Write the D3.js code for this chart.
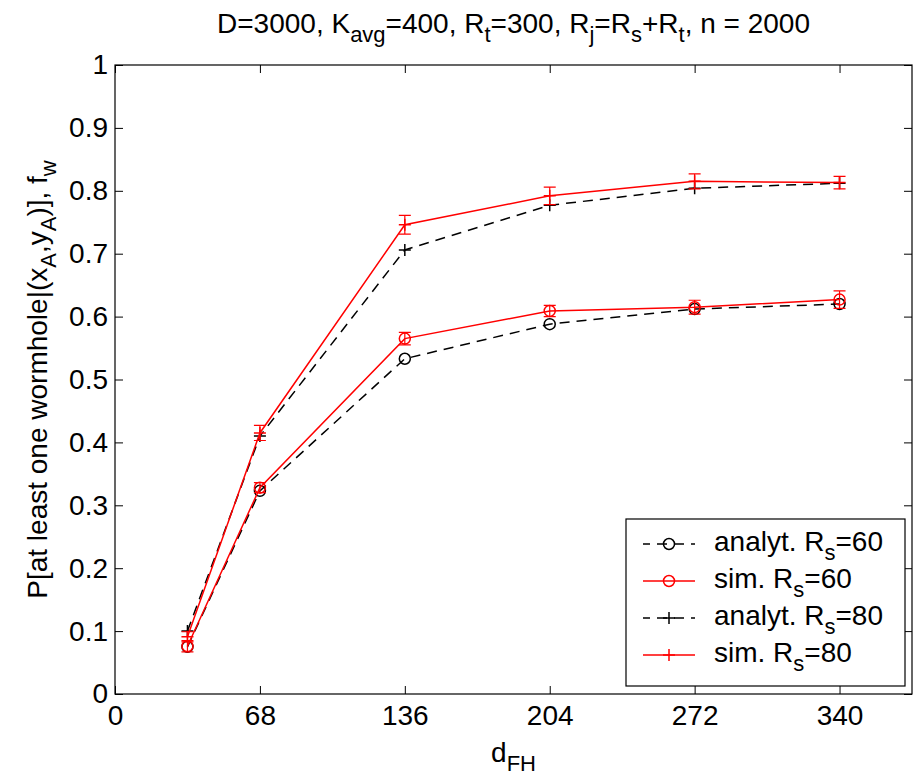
<!DOCTYPE html>
<html>
<head>
<meta charset="utf-8">
<script src="https://cdn.jsdelivr.net/npm/d3@7"></script>
<style>
  body { margin: 0; background: #fff; }
  svg { display: block; }
  text { font-family: "Liberation Sans", Arial, Helvetica, sans-serif; fill: #000; }
</style>
</head>
<body>
<svg id="chart" width="916" height="781"></svg>
<script>
// ---- data ----
const xValues = [34, 68, 136, 204, 272, 340];
const analyt60 = [0.075, 0.323, 0.533, 0.588, 0.612, 0.620];
const sim60 = [0.076, 0.328, 0.565, 0.609, 0.615, 0.627];
const sim60Err = [0.009, 0.008, 0.010, 0.009, 0.011, 0.014];
const analyt80 = [0.100, 0.410, 0.706, 0.777, 0.804, 0.812];
const sim80 = [0.091, 0.415, 0.746, 0.792, 0.815, 0.813];
const sim80Err = [0.008, 0.012, 0.015, 0.014, 0.012, 0.010];
const xTicks = [0, 68, 136, 204, 272, 340];
const yTicks = [0, 0.1, 0.2, 0.3, 0.4, 0.5, 0.6, 0.7, 0.8, 0.9, 1];
const legendLabels = [
  ["analyt. R", "s", "=60"],
  ["sim. R", "s", "=60"],
  ["analyt. R", "s", "=80"],
  ["sim. R", "s", "=80"]
];

// ---- layout ----
const L = 115, T = 65, R = 912, B = 694;
const svg = d3.select("#chart");
const x = d3.scaleLinear().domain([0, 374]).range([L, R]);
const y = d3.scaleLinear().domain([0, 1]).range([B, T]);
const FS = 28, SUB = 22, TL = 8, SD = 9;

// axes box
svg.append("rect").attr("x", L).attr("y", T).attr("width", R - L).attr("height", B - T)
  .attr("fill", "none").attr("stroke", "#000").attr("stroke-width", 1.2);

const xAxis = d3.axisBottom(x).tickValues(xTicks).tickFormat(d3.format("d")).tickSizeInner(-TL).tickSizeOuter(0).tickPadding(11);
const gx = svg.append("g").attr("transform", `translate(0,${B})`).call(xAxis);
const xAxisTop = d3.axisTop(x).tickValues(xTicks).tickFormat("").tickSizeInner(-TL).tickSizeOuter(0);
const gxt = svg.append("g").attr("transform", `translate(0,${T})`).call(xAxisTop);
const yAxis = d3.axisLeft(y).tickValues(yTicks).tickFormat(d => d3.format("~g")(d)).tickSizeInner(-TL).tickSizeOuter(0).tickPadding(7);
const gy = svg.append("g").attr("transform", `translate(${L},0)`).call(yAxis);
const yAxisR = d3.axisRight(y).tickValues(yTicks).tickFormat("").tickSizeInner(-TL).tickSizeOuter(0);
const gyr = svg.append("g").attr("transform", `translate(${R},0)`).call(yAxisR);
[gx, gxt, gy, gyr].forEach(g => {
  g.select(".domain").remove();
  g.selectAll(".tick line").attr("stroke", "#000").attr("stroke-width", 1);
  g.selectAll("text").attr("font-size", FS).attr("font-family", "Liberation Sans, Arial, sans-serif").attr("fill", "#000");
});
gx.selectAll("text").attr("dy", "0.71em");

// lines
const line = d3.line().x(d => x(d[0])).y(d => y(d[1]));
const plot = svg.append("g");

function drawSeries(vals, color, dashed) {
  plot.append("path").datum(xValues.map((xv, i) => [xv, vals[i]]))
    .attr("d", line).attr("fill", "none").attr("stroke", color).attr("stroke-width", 1.5)
    .attr("stroke-dasharray", dashed ? "10,7" : null);
}
function drawCircles(vals, color) {
  plot.append("g").selectAll("circle").data(xValues.map((xv, i) => [xv, vals[i]])).join("circle")
    .attr("cx", d => x(d[0])).attr("cy", d => y(d[1])).attr("r", 5.5)
    .attr("fill", "none").attr("stroke", color).attr("stroke-width", 1.5);
}
function drawPlus(vals, color) {
  const g = plot.append("g");
  xValues.forEach((xv, i) => {
    const cx = x(xv), cy = y(vals[i]);
    g.append("path").attr("d", `M${cx - 6},${cy}H${cx + 6}M${cx},${cy - 6}V${cy + 6}`)
      .attr("stroke", color).attr("stroke-width", 1.5).attr("fill", "none");
  });
}
function drawErr(vals, errs, color) {
  const g = plot.append("g");
  xValues.forEach((xv, i) => {
    const cx = x(xv), y0 = y(vals[i] - errs[i]), y1 = y(vals[i] + errs[i]);
    g.append("path").attr("d", `M${cx},${y0}V${y1}M${cx - 6},${y0}H${cx + 6}M${cx - 6},${y1}H${cx + 6}`)
      .attr("stroke", color).attr("stroke-width", 1.2).attr("fill", "none");
  });
}

drawSeries(analyt60, "#000", true);
drawCircles(analyt60, "#000");
drawSeries(analyt80, "#000", true);
drawPlus(analyt80, "#000");
drawSeries(sim60, "#ff0000", false);
drawErr(sim60, sim60Err, "#ff0000");
drawCircles(sim60, "#ff0000");
drawSeries(sim80, "#ff0000", false);
drawErr(sim80, sim80Err, "#ff0000");
drawPlus(sim80, "#ff0000");

function richText(sel, parts) {
  let prev = 0;
  parts.forEach(([t, s]) => {
    const shift = (s ? SD : 0) - (prev ? SD : 0);
    sel.append("tspan").attr("dy", shift).attr("font-size", s ? SUB : FS).text(t);
    prev = s;
  });
}

// title
const title = svg.append("text").attr("x", (L + R) / 2).attr("y", 33).attr("text-anchor", "middle").attr("font-size", FS);
richText(title, [
  ["D=3000, K", 0], ["avg", 1], ["=400, R", 0], ["t", 1], ["=300, R", 0], ["j", 1], ["=R", 0], ["s", 1], ["+R", 0], ["t", 1], [", n = 2000", 0]
]);

// x label
const xl = svg.append("text").attr("x", (L + R) / 2).attr("y", 762).attr("text-anchor", "middle").attr("font-size", FS);
richText(xl, [["d", 0], ["FH", 1]]);

// y label
const yl = svg.append("text").attr("transform", `translate(47,${(T + B) / 2}) rotate(-90)`).attr("text-anchor", "middle").attr("font-size", FS);
richText(yl, [["P[at least one wormhole|(x", 0], ["A", 1], [",y", 0], ["A", 1], [")], f", 0], ["w", 1]]);

// legend
const lg = svg.append("g");
const LX0 = 626, LX1 = 905, LY0 = 519, LY1 = 686;
lg.append("rect").attr("x", LX0).attr("y", LY0).attr("width", LX1 - LX0).attr("height", LY1 - LY0)
  .attr("fill", "#fff").attr("stroke", "#000").attr("stroke-width", 1.2);
const rowY = [544, 581, 618, 655];
const styles = [
  { c: "#000", d: true, m: "o" }, { c: "#ff0000", d: false, m: "o" },
  { c: "#000", d: true, m: "+" }, { c: "#ff0000", d: false, m: "+" }
];
const SX0 = 643, SX1 = 695, MX = 669, TX = 714;
legendLabels.forEach((lab, i) => {
  const yy = rowY[i], st = styles[i];
  lg.append("line").attr("x1", SX0).attr("x2", SX1).attr("y1", yy).attr("y2", yy)
    .attr("stroke", st.c).attr("stroke-width", 1.5).attr("stroke-dasharray", st.d ? "10,7" : null)
    .attr("stroke-dashoffset", st.d ? 3 : 0);
  if (st.m === "o") {
    lg.append("circle").attr("cx", MX).attr("cy", yy).attr("r", 5.5).attr("fill", "none").attr("stroke", st.c).attr("stroke-width", 1.5);
  } else {
    lg.append("path").attr("d", `M${MX - 6},${yy}H${MX + 6}M${MX},${yy - 6}V${yy + 6}`).attr("stroke", st.c).attr("stroke-width", 1.5);
  }
  const t = lg.append("text").attr("x", TX).attr("y", yy + 7).attr("font-size", FS);
  richText(t, [[lab[0], 0], [lab[1], 1], [lab[2], 0]]);
});
</script>
</body>
</html>
